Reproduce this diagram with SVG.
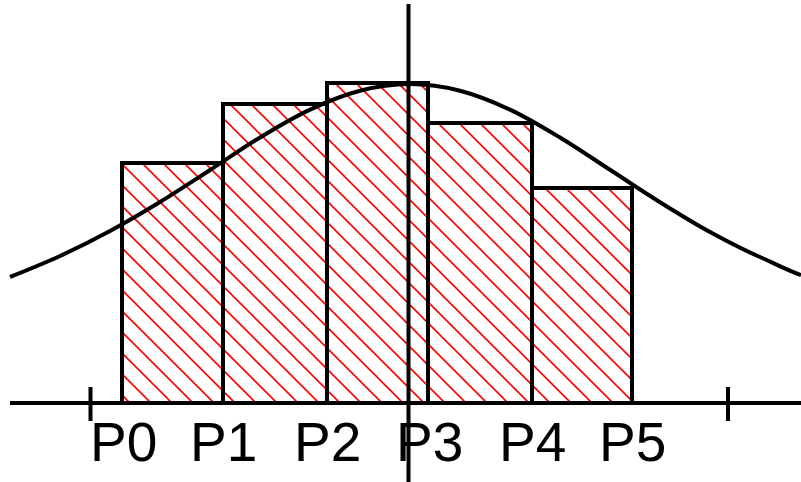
<svg xmlns="http://www.w3.org/2000/svg" width="801" height="482" viewBox="0 0 801 482">
<defs>
<pattern id="hatch" patternUnits="userSpaceOnUse" width="21" height="21">
<path d="M0,0 L21,21 M-5,16 L5,26 M16,-5 L26,5" stroke="#ff0000" stroke-width="1.6"/>
</pattern>
<style>
.bar{fill:url(#hatch);stroke:#000;stroke-width:4}
.axis{stroke:#000;stroke-width:4;fill:none}
.curve{stroke:#000;stroke-width:4;fill:none;stroke-linejoin:round}
.lbl{font-family:"Liberation Sans",Arial,sans-serif;font-size:55px;fill:#000}
</style>
</defs>
<rect width="801" height="482" fill="#fff"/>
<g id="bars">
<rect id="bar-p0" class="bar" x="122" y="163" width="101" height="240"/>
<rect id="bar-p1" class="bar" x="223" y="104" width="104" height="299"/>
<rect id="bar-p2" class="bar" x="327" y="83" width="101" height="320"/>
<rect id="bar-p3" class="bar" x="428" y="123" width="104" height="280"/>
<rect id="bar-p4" class="bar" x="532" y="188" width="100" height="215"/>
</g>
<g id="axes">
<line class="axis" x1="10" y1="403" x2="801" y2="403"/>
<line class="axis" x1="408.5" y1="4" x2="408.5" y2="482"/>
<line class="axis" x1="90.5" y1="387" x2="90.5" y2="421"/>
<line class="axis" x1="728" y1="387" x2="728" y2="421"/>
</g>
<g id="curve">
<path class="curve" d="M10,277 C26.7,270.3 43.3,263.7 60,256 C76.7,248.3 93.3,240 110,231 C126.7,222 143.3,212.2 160,202 C176.7,191.8 193.3,180.8 210,170 C226.7,159.3 243.3,147.6 260,137.5 C276.7,127.4 293.3,117.4 310,109.6 C326.7,101.8 343.3,95 360,90.7 C376.7,86.4 393.3,84 410,84 C426.7,84 443.3,86.4 460,90.7 C476.7,95 493.3,101.8 510,109.6 C526.7,117.4 543.3,127.5 560,137.5 C576.7,147.5 593.3,159 610,169.8 C626.7,180.6 643.3,191.8 660,202.2 C676.7,212.6 693.3,222.9 710,232 C726.7,241.1 743.3,249.8 760,257 C773.7,263 787.3,270.5 801,275"/>
</g>
<g id="labels">
<text class="lbl" x="90" y="461">P0</text>
<text class="lbl" x="190" y="461">P1</text>
<text class="lbl" x="294" y="461">P2</text>
<text class="lbl" x="396" y="461">P3</text>
<text class="lbl" x="499" y="461">P4</text>
<text class="lbl" x="599" y="461">P5</text>
</g>
</svg>
